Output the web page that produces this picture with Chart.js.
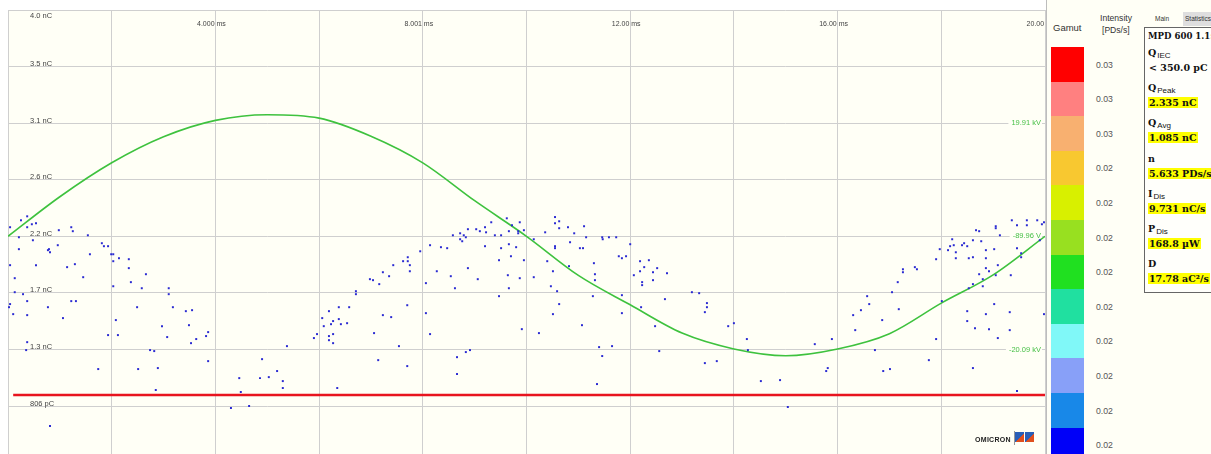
<!DOCTYPE html>
<html><head><meta charset="utf-8">
<script src="https://cdn.jsdelivr.net/npm/chart.js@4/dist/chart.umd.min.js"></script>
<style>
html,body{margin:0;padding:0;background:#fff;width:1211px;height:454px;overflow:hidden;font-family:"Liberation Sans",Arial,sans-serif;}
#wrap{position:absolute;left:0;top:0;width:1047px;height:454px;}
#panel{position:absolute;left:1046px;top:0;width:165px;height:454px;background:#fffff6;border-left:1px solid #bdbdbd;overflow:hidden;}
#panel .t{position:absolute;white-space:nowrap;color:#333;}
.blk{position:absolute;left:4px;width:33px;}
.val{position:absolute;left:49px;font-size:8.7px;color:#555;line-height:10px;}
#box{position:absolute;left:97px;top:27px;width:80px;height:264px;border:1.5px solid #666;background:#fffffb;}
#box .l{position:absolute;left:3px;font-family:"DejaVu Serif",serif;font-weight:bold;font-size:9.5px;color:#111;white-space:nowrap;line-height:12px;}
#box .l sub{font-family:"Liberation Sans",Arial,sans-serif;font-weight:normal;font-size:8px;vertical-align:-2px;margin-left:1px;}
#box .v{position:absolute;left:3px;font-family:"DejaVu Serif",serif;font-weight:bold;font-size:9.5px;color:#111;white-space:nowrap;line-height:13px;}
#box .v span{background:#ffff00;padding:0 1px;}
#logo{position:absolute;left:975px;top:430px;width:70px;height:18px;}
</style></head><body>
<div id="wrap"><canvas id="c" width="1047" height="454"></canvas></div>
<div id="logo">
  <div style="position:absolute;left:0;top:6px;font-size:7px;font-weight:bold;color:#222;letter-spacing:0.3px;">OMICRON</div>
  <div style="position:absolute;left:39px;top:1px;width:1px;height:14px;background:#999;"></div>
  <div style="position:absolute;left:40px;top:2px;width:9px;height:10px;background:linear-gradient(135deg,#2a5fb8 55%,#e0501e 55%);"></div>
  <div style="position:absolute;left:50px;top:2px;width:9px;height:10px;background:linear-gradient(135deg,#2a5fb8 55%,#e0501e 55%);"></div>
</div>
<div id="panel">
  <div class="t" style="left:6px;top:22px;font-size:9.5px;">Gamut</div>
  <div class="t" style="left:53px;top:13px;font-size:8.6px;">Intensity</div>
  <div class="t" style="left:55px;top:25px;font-size:8.6px;">[PDs/s]</div>
  <div id="gamut"></div>
  <div class="t" style="left:108px;top:15px;font-size:6.5px;color:#333;">Main</div>
  <div style="position:absolute;left:136px;top:12px;width:40px;height:14px;background:#dedede;"></div>
  <div class="t" style="left:138px;top:15px;font-size:6.5px;color:#333;">Statistics</div>
  <div id="box"></div>
</div>
<script>
// ---- data ----
// PD pulses: phase time (ms) and apparent charge (pC)
const pdTime = [
 0.04,0.25,0.37,0.37,0.46,0.54,0.21,0.98,1.22,1.25,1.54,0.48,0.21,0.96,0.79,0.77,0.81,1.81,1.85,1.93,
 1.58,1.99,2.03,2.03,2.14,2.33,0.04,0.54,1.14,1.29,2.33,2.66,0.13,1.45,2.37,2.58,2.03,3.10,3.10,0.13,
 0.29,0.04,0.02,0.37,0.77,1.22,1.31,0.10,0.37,1.06,2.49,3.18,3.43,3.55,2.08,2.97,3.49,1.93,2.12,3.07,
 3.86,3.82,3.63,3.53,0.37,0.35,2.74,2.82,5.38,3.86,1.74,2.51,2.89,4.90,4.46,4.86,5.03,5.19,5.30,5.30,
 2.85,4.49,4.30,4.65,0.81,
 10.55,9.87,9.32,9.62,10.55,10.63,10.63,10.80,11.11,9.72,9.20,9.03,9.10,8.87,8.72,8.58,8.79,8.83,9.39,9.51,
 9.22,9.66,9.84,9.84,9.95,10.36,10.92,11.15,8.72,8.76,10.14,8.14,8.35,8.47,9.20,9.51,9.66,9.80,10.55,10.55,
 10.84,11.03,11.09,7.95,9.70,7.71,7.62,7.71,7.75,7.43,7.75,9.47,9.95,10.40,11.30,7.23,7.35,8.27,8.87,10.51,
 10.82,11.32,6.98,7.04,7.16,8.06,8.54,9.06,9.64,9.87,10.14,11.32,8.62,9.66,10.47,10.59,6.71,6.71,9.47,11.28,
 6.19,6.38,6.58,7.70,6.06,6.27,6.38,6.42,6.54,6.23,6.09,7.23,7.39,8.06,5.96,5.90,6.19,6.27,6.19,6.27,
 7.06,8.14,7.54,7.14,7.70,6.35,8.66,8.83,8.91,8.66,9.91,10.24,10.51,10.63,11.07,11.40,11.36,
 11.46,11.47,11.59,11.73,12.00,11.78,11.84,11.92,12.36,12.19,12.27,12.52,12.19,12.44,12.71,12.07,12.44,12.23,12.23,11.84,
 12.67,13.19,13.33,16.57,17.05,17.16,11.84,12.21,12.48,12.56,11.65,11.46,13.48,13.48,13.44,13.89,14.00,13.44,13.67,14.25,
 14.27,14.52,14.89,15.04,15.56,15.89,15.81,15.78,16.30,16.45,16.61,16.34,16.86,16.72,16.88,17.01,17.18,
 17.76,17.90,18.01,18.50,18.50,18.86,19.02,19.32,18.65,18.92,19.09,19.32,18.61,19.46,19.98,
 19.36,19.65,19.85,19.98,19.94,19.46,19.65,19.05,19.05,18.67,18.73,19.13,18.21,18.61,18.77,18.44,18.24,18.17,18.40,18.50,
 17.97,18.13,18.86,19.02,19.46,19.90,18.28,19.54,19.54,17.90,18.28,18.53,18.61,18.86,19.09,18.86,18.92,17.26,17.26,17.49,
 17.53,18.73,19.05,19.34,18.80,18.61,18.80,18.53
];
const pdCharge = [
 2248,2304,2336,2248,2272,2280,2167,2224,2248,2216,2183,2143,2071,2103,2071,2063,2046,2119,2095,2095,
 2030,2030,2030,1974,1998,1990,1942,1942,1926,1950,1918,1869,1837,1845,1805,1756,1772,1756,1708,1724,
 1708,1628,1603,1652,1603,1652,1652,1547,1539,1515,1603,1603,1571,1579,1499,1450,1458,1378,1378,1362,
 1402,1370,1346,1313,1321,1257,1257,1249,1289,1168,1104,1104,1112,1184,1031,1031,1039,1088,1007,951,
 935,919,790,806,645,
 2330,2288,2288,2320,2280,2296,2240,2248,2256,2264,2248,2232,2216,2232,2199,2183,2183,2167,2183,2183,
 2207,2216,2216,2199,2224,2207,2199,2167,2151,2135,2151,2103,2087,2079,2095,2079,2111,2087,2095,2079,
 2127,2079,2079,2054,2014,2006,1974,1974,1942,1942,1893,1982,1982,1974,1958,1885,1853,1893,1918,1893,
 1934,1869,1829,1821,1789,1797,1853,1829,1861,1837,1845,1821,1756,1756,1772,1732,1732,1708,1692,1692,
 1571,1603,1603,1619,1515,1491,1507,1466,1474,1466,1450,1539,1523,1555,1386,1354,1370,1386,1337,1313,
 1394,1386,1289,1176,1128,951,1200,1241,1257,1064,1426,1394,1547,1628,1458,1281,983,
 2167,2151,2167,2167,2111,2014,1998,2014,1982,1974,1926,1918,1893,1885,1877,1861,1821,1805,1781,1700,
 1668,1724,1716,1692,1724,1805,1555,1603,1450,1249,1289,1209,1636,1603,1563,1450,1474,1152,1168,1346,
 1257,1007,1015,798,1305,1346,1112,1088,1539,1579,1628,1418,1499,1257,1088,1104,1587,
 1176,1346,1652,1571,1491,1547,1628,1563,1434,1426,1354,1418,1112,927,1547,
 2304,2304,2304,2288,2272,2264,2264,2256,2240,2224,2216,2183,2151,2143,2135,2119,2103,2095,2103,2095,
 2071,2063,2063,2071,2079,2143,2046,2038,2006,1990,1998,1998,2006,1998,1942,1918,1893,1909,1885,1926,
 1909,1869,1861,1861,1829,1789,1772,1756
];
// test voltage (kV) over one cycle
const voltTime = [0,1,2,3,4,5,6,7,8,9,10,11,12,13,14,15,16,17,18,19,20];
const voltKV = [-0.09,6.9,12.9,17.5,20.4,21.4,20.8,17.6,12.9,6.2,-0.09,-7.0,-12.2,-17.2,-20.0,-21.2,-20.0,-17.3,-11.9,-6.9,-0.09];
// noise threshold (pC)
const thresholdPC = 894;
// axes
const chargeTicks = [4000,3544,3088,2631,2175,1719,1262,806];
const chargeTickLabels = ["4.0 nC","3.5 nC","3.1 nC","2.6 nC","2.2 nC","1.7 nC","1.3 nC","806 pC"];
const timeGrid = [0,2,4,6,8,10,12,14,16,18,20];
const timeLabelAt = [4,8,12,16,20];
const timeLabels = ["4.000 ms","8.001 ms","12.00 ms","16.00 ms","20.00 ms"];
const voltLabelAt = [19.91,-0.09,-20.09];
const voltLabels = ["19.91 kV","-89.96 V","-20.09 kV"];
// gamut legend
const gamutColors = ["#ff0000","#ff8080","#f8b070","#f8c830","#d8f000","#98e020","#20e020","#20e0a0","#80f8f8","#88a0f8","#1888e8","#0000f8"];
const gamutValues = ["0.03","0.03","0.03","0.02","0.02","0.02","0.02","0.02","0.02","0.02","0.02","0.02"];
// statistics
const statLabels = [["Q","IEC"],["Q","Peak"],["Q","Avg"],["n",""],["I","Dis"],["P","Dis"],["D",""]];
const statValues = ["< 350.0 pC","2.335 nC","1.085 nC","5.633 PDs/s","9.731 nC/s","168.8 µW","17.78 aC²/s"];
const statHighlight = [false,true,true,true,true,true,true];

// ---- legend / statistics panel ----
const g = document.getElementById('gamut');
gamutColors.forEach((c,i)=>{
  const top = 47 + i*34.6;
  const b = document.createElement('div'); b.className='blk';
  b.style.top = top+'px'; b.style.height='34.6px'; b.style.background=c; g.appendChild(b);
  const v = document.createElement('div'); v.className='val';
  v.style.top = (top+12.5)+'px'; v.textContent = gamutValues[i]; g.appendChild(v);
});
const box = document.getElementById('box');
const head = document.createElement('div'); head.className='l'; head.style.top='2px'; head.style.fontSize='8.6px'; head.textContent='MPD 600 1.1:'; box.appendChild(head);
statLabels.forEach((l,i)=>{
  const lt = 19 + i*35.2;
  const d = document.createElement('div'); d.className='l'; d.style.top = lt+'px';
  d.innerHTML = l[0] + (l[1] ? '<sub>'+l[1]+'</sub>' : '');
  box.appendChild(d);
  const v = document.createElement('div'); v.className='v'; v.style.top=(lt+14)+'px';
  const s = document.createElement('span'); s.textContent = statValues[i];
  if(!statHighlight[i]) s.style.background='transparent';
  v.appendChild(s); box.appendChild(v);
});

// ---- chart ----
const textPlugin = {
  id:'prpd',
  beforeDraw(chart){
    const {ctx, chartArea:a} = chart;
    ctx.save(); ctx.fillStyle='#fffff6';
    ctx.fillRect(a.left,a.top,a.right-a.left,a.bottom-a.top); ctx.restore();
  },
  beforeDatasetsDraw(chart){
    const {ctx, chartArea:a, scales} = chart;
    ctx.save();
    ctx.font = '7.5px "Liberation Sans", Arial, sans-serif';
    ctx.fillStyle = '#444';
    ctx.textAlign = 'left'; ctx.textBaseline = 'alphabetic';
    chargeTicks.forEach((v,i)=>{
      const y = scales.y.getPixelForValue(v);
      ctx.fillText(chargeTickLabels[i], 30, i===0 ? y+7.5 : y-0.5);
    });
    ctx.font = '7px "Liberation Sans", Arial, sans-serif';
    ctx.textAlign='center'; ctx.textBaseline='middle';
    timeLabelAt.forEach((t,i)=>{
      const x = scales.x.getPixelForValue(t);
      ctx.fillText(timeLabels[i], x-4, 24.5);
    });
    ctx.font = '7.5px "Liberation Sans", Arial, sans-serif';
    ctx.textAlign='right';
    voltLabelAt.forEach((v,i)=>{
      const y = scales.yV.getPixelForValue(v);
      const w = ctx.measureText(voltLabels[i]).width;
      ctx.fillStyle='#fffff6'; ctx.fillRect(a.right-5-w-2, y-5, w+4, 10);
      ctx.fillStyle='#48c048'; ctx.fillText(voltLabels[i], a.right-4, y);
    });
    ctx.restore();
  }
};

new Chart(document.getElementById('c'), {
  type:'scatter',
  data:{ datasets:[
    { label:'PD', data: pdTime.map((t,i)=>({x:t,y:pdCharge[i]})), yAxisID:'y',
      pointStyle:'rect', pointRadius:1.4, pointHoverRadius:0, pointBackgroundColor:'#2a2ad2', pointBorderWidth:0, showLine:false },
    { label:'Voltage', data: voltTime.map((t,i)=>({x:t,y:voltKV[i]})), yAxisID:'yV',
      showLine:true, borderColor:'#3ec23e', borderWidth:1.6, pointRadius:0, pointHoverRadius:0, cubicInterpolationMode:'monotone', fill:false },
    { label:'Threshold', data:[{x:0.1,y:thresholdPC},{x:20,y:thresholdPC}], yAxisID:'y',
      showLine:true, borderColor:'#e8141e', borderWidth:2.5, pointRadius:0, pointHoverRadius:0, fill:false }
  ]},
  options:{
    responsive:false, animation:false, events:[],
    layout:{autoPadding:false, padding:{left:8,top:10,right:2,bottom:0}},
    plugins:{legend:{display:false}, tooltip:{enabled:false}},
    scales:{
      x:{ type:'linear', min:0, max:20, position:'top',
          afterBuildTicks:(s)=>{ s.ticks = timeGrid.map(v=>({value:v})); },
          ticks:{display:false}, border:{display:false},
          grid:{color:'#cfcfcf', lineWidth:1, drawTicks:false} },
      y:{ type:'linear', min:419, max:4000,
          afterBuildTicks:(s)=>{ s.ticks = chargeTicks.map(v=>({value:v})); },
          ticks:{display:false}, border:{display:false},
          grid:{color:'#cfcfcf', lineWidth:1, drawTicks:false} },
      yV:{ type:'linear', display:false, min:-38.57, max:39.91 }
    }
  },
  plugins:[textPlugin]
});
</script>
</body></html>
